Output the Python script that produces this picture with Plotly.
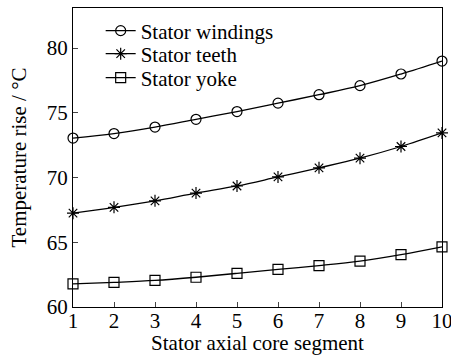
import plotly.graph_objects as go

segments = [1, 2, 3, 4, 5, 6, 7, 8, 9, 10]
windings = [73.05, 73.4, 73.9, 74.5, 75.1, 75.75, 76.4, 77.1, 78.0, 79.0]
teeth = [67.25, 67.7, 68.2, 68.8, 69.35, 70.05, 70.75, 71.5, 72.4, 73.45]
yoke = [61.78, 61.9, 62.05, 62.3, 62.6, 62.9, 63.2, 63.55, 64.05, 64.65]
y_ticks = [60, 65, 70, 75, 80]

font = "Liberation Serif"

fig = go.Figure()
series = [
    ("Stator windings", windings, "circle-open", "legend"),
    ("Stator teeth", teeth, "asterisk-open", "legend2"),
    ("Stator yoke", yoke, "square-open", "legend3"),
]
for name, vals, sym, lg in series:
    fig.add_trace(go.Scatter(
        x=segments, y=vals, name=name, mode="lines+markers", legend=lg,
        line=dict(color="black", width=1.3, shape="spline"),
        marker=dict(symbol=sym, size=10, color="black", line=dict(width=1.2, color="black")),
        cliponaxis=False,
    ))

leg_common = dict(x=0.075, xanchor="left", yanchor="middle",
                  bgcolor="rgba(0,0,0,0)", font=dict(size=21, family=font, color="black"),
                  itemwidth=30, borderwidth=0)
fig.update_layout(
    width=451, height=355,
    margin=dict(l=73, r=9, t=8, b=48),
    paper_bgcolor="white", plot_bgcolor="white",
    font=dict(family=font, size=21, color="black"),
    showlegend=True,
    legend=dict(y=1 - (31 - 8) / 299, **leg_common),
    legend2=dict(y=1 - (54 - 8) / 299, **leg_common),
    legend3=dict(y=1 - (78 - 8) / 299, **leg_common),
    xaxis=dict(range=[1, 10], tickvals=segments, ticks="inside", ticklen=5,
               showline=True, mirror=True, linecolor="black", linewidth=1.2,
               showgrid=False, zeroline=False, automargin=False,
               ticklabeloverflow="allow", ticklabelstandoff=-5,
               tickfont=dict(family=font, size=21),
               title=dict(text="Stator axial core segment", standoff=2,
                          font=dict(family=font, size=21))),
    yaxis=dict(range=[60, 83.1], tickvals=y_ticks, ticks="inside", ticklen=5,
               showline=True, mirror=True, linecolor="black", linewidth=1.2,
               showgrid=False, zeroline=False, automargin=False,
               ticklabeloverflow="allow",
               tickfont=dict(family=font, size=21),
               title=dict(text="Temperature rise / °C", standoff=14,
                          font=dict(family=font, size=21))),
)

fig.write_html("out.html", config={"displayModeBar": False},
               post_script="document.body.style.margin='0';document.body.style.overflow='hidden';")
